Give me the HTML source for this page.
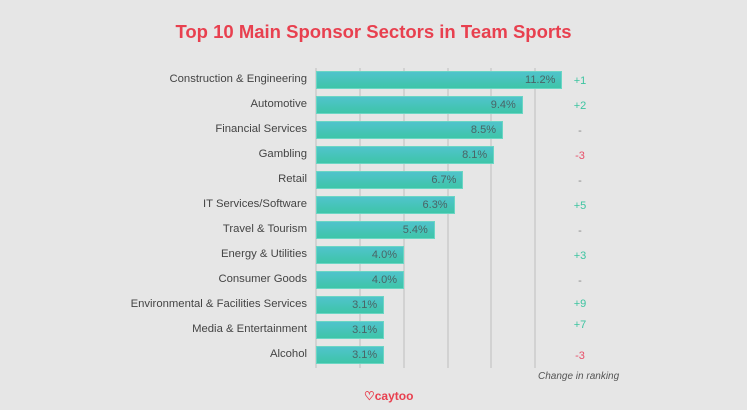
<!DOCTYPE html>
<html><head><style>
body{margin:0;width:747px;height:410px;background:#e6e6e6;font-family:"Liberation Sans",sans-serif;position:relative;overflow:hidden}
.t{position:absolute;top:21px;left:0;width:747px;text-align:center;color:#e8404f;font-weight:bold;font-size:18.5px}
.g{position:absolute;top:68px;width:2px;height:300px;background:#d2d2d2}
.l{position:absolute;right:440px;font-size:11.3px;color:#444;text-align:right;white-space:nowrap}
.b{position:absolute;left:316px;height:18px;background:linear-gradient(#50c3cc,#3ec5a8);border:1px solid #6ad6c4;box-sizing:border-box}
.v{position:absolute;right:6px;top:2px;font-size:11px;color:#4a6466}
.c{position:absolute;left:560px;width:40px;text-align:center;font-size:11px}
</style></head><body>
<div class="t">Top 10 Main Sponsor Sectors in Team Sports</div>
<div class="g" style="left:315px"></div><div class="g" style="left:359px"></div><div class="g" style="left:403px"></div><div class="g" style="left:447px"></div><div class="g" style="left:490px"></div><div class="g" style="left:534px"></div>
<div id="r"></div>
<script>
var d=[["Construction & Engineering",11.2,"+1"],["Automotive",9.4,"+2"],["Financial Services",8.5,"-"],["Gambling",8.1,"-3"],["Retail",6.7,"-"],["IT Services/Software",6.3,"+5"],["Travel & Tourism",5.4,"-"],["Energy & Utilities",4.0,"+3"],["Consumer Goods",4.0,"-"],["Environmental & Facilities Services",3.1,"+9"],["Media & Entertainment",3.1,"+7"],["Alcohol",3.1,"-3"]];
var h="";d.forEach(function(r,i){var y=80+i*25;var w=r[1]*22;
h+='<div class="l" style="top:'+(y-7)+'px">'+r[0].replace("&","&amp;")+'</div>';
h+='<div class="b" style="top:'+(y-9)+'px;width:'+w+'px"><span class="v">'+r[1].toFixed(1)+'%</span></div>';
var col=r[2]=="-"?"#888":(r[2][0]=="+"?"#3cc4a0":"#e8506a");
var yy=(i==9?y-2:(i==10?y-6:y));
h+='<div class="c" style="top:'+(yy-5)+'px;color:'+col+'">'+r[2]+'</div>';});
document.getElementById("r").innerHTML=h;
</script>
<div style="position:absolute;left:538px;top:371px;font-size:10px;font-style:italic;color:#555">Change in ranking</div>
<div style="position:absolute;left:364px;top:389px;font-size:12px;font-weight:bold;color:#e8404f">♡caytoo</div>
</body></html>
